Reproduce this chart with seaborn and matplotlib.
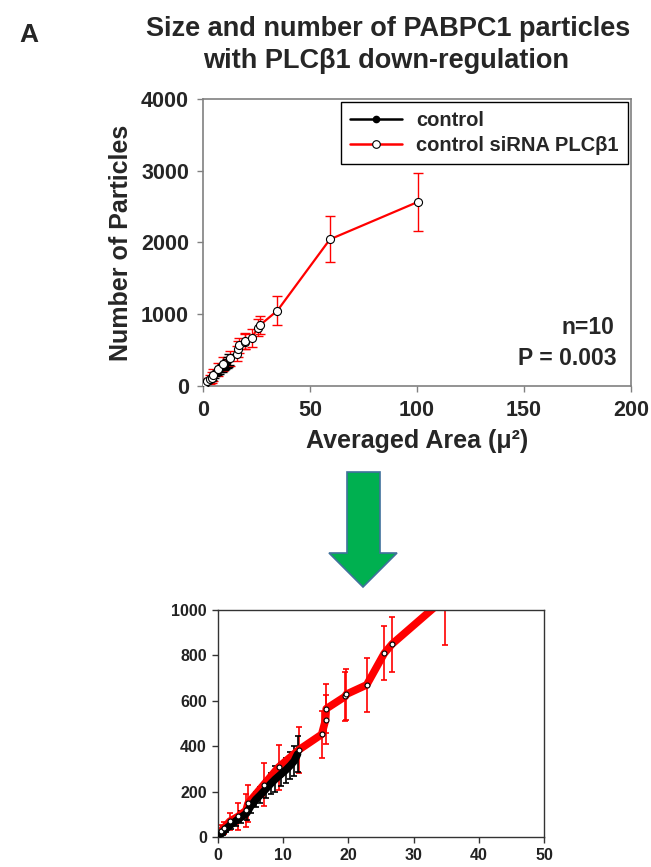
"""Particle size vs number of PABPC1 particles, control vs siRNA PLCb1, with zoomed inset."""

import matplotlib.pyplot as plt
import pandas as pd
import seaborn as sns
from matplotlib.lines import Line2D
from matplotlib.patches import Polygon

sns.set_theme(style="white")
plt.rcParams["font.family"] = ["Liberation Sans", "DejaVu Sans"]
plt.rcParams["font.weight"] = "bold"

# control series (averaged area, particle count, error)
ctrl_area = [0.3, 0.7, 1.3, 2.0, 2.8, 3.6, 4.4, 5.0, 5.8, 6.5, 7.3, 8.1, 8.8, 9.6, 10.4, 11.1, 11.7, 12.2]
ctrl_count = [8, 20, 38, 55, 72, 88, 105, 135, 165, 185, 210, 235, 255, 275, 295, 315, 335, 365]
ctrl_err = [5, 10, 15, 20, 22, 25, 28, 30, 32, 35, 40, 45, 57, 50, 55, 60, 67, 78]

# siRNA PLCb1 series
sirna_area = [0.4, 0.9, 1.8, 3.1, 4.3, 4.6, 7.0, 9.3, 12.4, 15.9, 16.5, 16.6, 19.5, 19.7,
              22.8, 25.5, 26.7, 34.8, 59.3, 100.5]
sirna_count = [25, 40, 69, 91, 117, 148, 230, 308, 384, 452, 516, 565, 619, 629,
               670, 809, 850, 1052, 2044, 2567]
sirna_err = [30, 25, 38, 58, 73, 83, 95, 99, 102, 102, 108, 108, 106, 112,
             120, 119, 121, 206, 322, 401]

ctrl = pd.DataFrame({"area": ctrl_area, "count": ctrl_count, "err": ctrl_err})
sirna = pd.DataFrame({"area": sirna_area, "count": sirna_count, "err": sirna_err})

W, H = 651, 867
fig = plt.figure(figsize=(W / 100, H / 100), dpi=100)


def frac(x0, y0, x1, y1):
    return [x0 / W, 1 - y1 / H, (x1 - x0) / W, (y1 - y0) / H]


def draw(ax, lw, ms_ctrl, ms_sirna, ebar_lw, cap):
    ax.errorbar(sirna["area"], sirna["count"], yerr=sirna["err"], fmt="none",
                ecolor="red", elinewidth=ebar_lw, capsize=cap, capthick=ebar_lw, zorder=1)
    ax.errorbar(ctrl["area"], ctrl["count"], yerr=ctrl["err"], fmt="none",
                ecolor="black", elinewidth=ebar_lw, capsize=cap, capthick=ebar_lw, zorder=1)
    sns.lineplot(data=sirna, x="area", y="count", sort=False, color="red", lw=lw,
                 ax=ax, zorder=2, legend=False)
    sns.lineplot(data=ctrl, x="area", y="count", sort=False, color="black", lw=lw,
                 marker="o", markersize=ms_ctrl, markerfacecolor="black",
                 markeredgecolor="black", ax=ax, zorder=3, legend=False)
    sns.lineplot(data=sirna, x="area", y="count", sort=False, color="red", lw=0,
                 marker="o", markersize=ms_sirna, markerfacecolor="white",
                 markeredgecolor="black", markeredgewidth=0.8, ax=ax, zorder=4, legend=False)


# main chart
ax = fig.add_axes(frac(203, 99, 631, 386))
draw(ax, lw=1.6, ms_ctrl=3.5, ms_sirna=5.8, ebar_lw=1.0, cap=3.5)
ax.set_xlim(0, 200)
ax.set_ylim(0, 4000)
ax.set_xticks([0, 50, 100, 150, 200])
ax.set_yticks([0, 1000, 2000, 3000, 4000])
ax.tick_params(axis="both", direction="out", length=4, width=1, color="#808080",
               labelsize=15.5, pad=6, bottom=True, left=True)
for lab in ax.get_xticklabels() + ax.get_yticklabels():
    lab.set_fontweight("bold")
for sp in ax.spines.values():
    sp.set_color("#808080")
    sp.set_linewidth(1.2)
ax.set_xlabel("Averaged Area (μ²)", fontsize=18, fontweight="bold", labelpad=6)
ax.set_ylabel("Number of Particles", fontsize=18, fontweight="bold", labelpad=6)

leg_handles = [
    Line2D([], [], color="black", lw=1.8, marker="o", markersize=4.5,
           markerfacecolor="black", markeredgecolor="black"),
    Line2D([], [], color="red", lw=1.8, marker="o", markersize=5.5,
           markerfacecolor="white", markeredgecolor="black", markeredgewidth=0.8),
]
leg = ax.legend(leg_handles, ["control", "control siRNA PLCβ1"], loc="upper right",
                bbox_to_anchor=(1.0, 1.0), fontsize=14.5, frameon=True, fancybox=False,
                edgecolor="black", framealpha=1, borderpad=0.45, handlelength=2.6,
                handletextpad=0.7, labelspacing=0.3, borderaxespad=0.15)
leg.get_frame().set_linewidth(1.0)
for t in leg.get_texts():
    t.set_fontweight("bold")

ax.text(0.96, 0.205, "n=10", transform=ax.transAxes, ha="right", va="center",
        fontsize=16.5, fontweight="bold")
ax.text(0.967, 0.095, "P = 0.003", transform=ax.transAxes, ha="right", va="center",
        fontsize=16.5, fontweight="bold")

# zoomed chart
ax2 = fig.add_axes(frac(218, 610, 544, 837))
draw(ax2, lw=5.5, ms_ctrl=2.5, ms_sirna=3.5, ebar_lw=1.2, cap=2.5)
ax2.set_xlim(0, 50)
ax2.set_ylim(0, 1000)
ax2.set_xticks([0, 10, 20, 30, 40, 50])
ax2.set_yticks([0, 200, 400, 600, 800, 1000])
ax2.tick_params(axis="both", direction="out", length=4, width=1, color="#333333",
                labelsize=11.5, labelcolor="#222222", pad=4, bottom=True, left=True)
for lab in ax2.get_xticklabels() + ax2.get_yticklabels():
    lab.set_fontweight("bold")
for sp in ax2.spines.values():
    sp.set_color("#333333")
    sp.set_linewidth(1.0)
ax2.set_xlabel("")
ax2.set_ylabel("")

# titles and panel letter
fig.text(29 / W, 1 - 35 / H, "A", fontsize=19, fontweight="bold", ha="center", va="center")
fig.text(388 / W, 1 - 29 / H, "Size and number of PABPC1 particles", fontsize=19.5,
         fontweight="bold", ha="center", va="center")
fig.text(386 / W, 1 - 61 / H, "with PLCβ1 down-regulation", fontsize=19.5,
         fontweight="bold", ha="center", va="center")

# green arrow between panels
arrow_px = [(347, 472), (380, 472), (380, 553), (397, 553), (363, 587), (329, 553), (347, 553)]
arrow = Polygon([(x / W, 1 - y / H) for x, y in arrow_px], closed=True,
                transform=fig.transFigure, facecolor="#00B050", edgecolor="#41719C", lw=1.2)
fig.patches.append(arrow)

fig.savefig("out.png", dpi=100)
